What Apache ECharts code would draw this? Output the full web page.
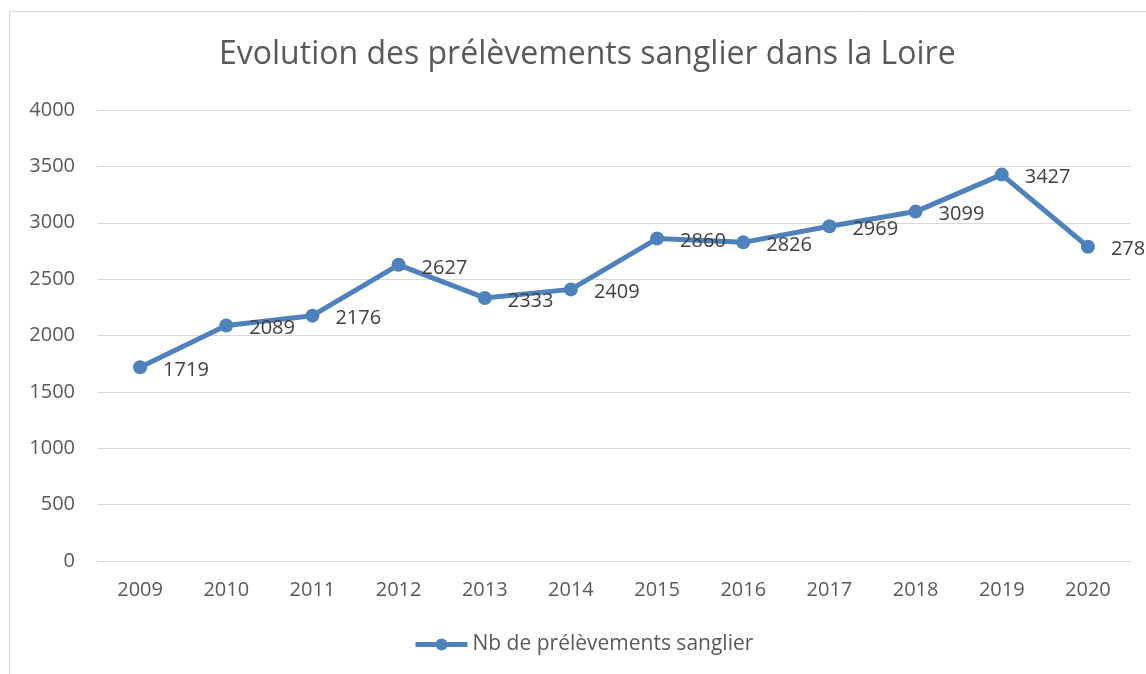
<!DOCTYPE html>
<html>
<head>
<meta charset="utf-8">
<script src="https://cdn.jsdelivr.net/npm/echarts@6/dist/echarts.min.js"></script>
<style>
    html, body { margin: 0; padding: 0; background: #fff; }
    #line-chart { width: 1146px; height: 674px; }
</style>
</head>
<body>
<div id="line-chart"></div>
<script>
    // données
    var years = ['2009', '2010', '2011', '2012', '2013', '2014', '2015', '2016', '2017', '2018', '2019', '2020'];
    var prelevements = [1719, 2089, 2176, 2627, 2333, 2409, 2860, 2826, 2969, 3099, 3427, 2787];
    var seriesName = 'Nb de prélèvements sanglier';
    var titleText = 'Evolution des prélèvements sanglier dans la Loire';

    var myChart = echarts.init(document.getElementById('line-chart'));
    var font = '"Open Sans", "Noto Sans", sans-serif';

    myChart.setOption({
        animation: false,
        textStyle: { fontFamily: font },
        graphic: [{
            type: 'rect',
            shape: { x: 9.5, y: 11.5, width: 1200, height: 700 },
            style: { fill: 'none', stroke: '#d9d9d9', lineWidth: 1 },
            silent: true
        }],
        title: {
            text: titleText,
            left: 214,
            top: 34,
            textStyle: { fontFamily: font, fontSize: 32, fontWeight: 'normal', color: '#595959' }
        },
        legend: {
            data: [seriesName],
            bottom: 14,
            left: 408,
            itemWidth: 52,
            itemHeight: 15,
            itemGap: 4,
            lineStyle: { width: 5 },
            textStyle: { fontFamily: font, fontSize: 21, color: '#595959' }
        },
        grid: { left: 97, right: 15, top: 110, bottom: 113 },
        xAxis: {
            type: 'category',
            data: years,
            boundaryGap: true,
            axisLine: { show: false },
            axisTick: { show: false },
            axisLabel: { fontFamily: font, fontSize: 20, color: '#595959', margin: 19 }
        },
        yAxis: {
            type: 'value',
            min: 0,
            max: 4000,
            interval: 500,
            axisLine: { show: false },
            axisTick: { show: false },
            splitLine: { lineStyle: { color: '#d9d9d9', width: 1 } },
            axisLabel: {
                fontFamily: font, fontSize: 20, color: '#595959', margin: 22,
                formatter: function (v) { return String(v); }
            }
        },
        series: [{
            name: seriesName,
            type: 'line',
            data: prelevements,
            symbol: 'circle',
            symbolSize: 14,
            lineStyle: { color: '#4f81bd', width: 5 },
            itemStyle: { color: '#4f81bd' },
            label: {
                show: true,
                position: 'right',
                distance: 16,
                offset: [0, 3],
                fontFamily: font,
                fontSize: 20,
                color: '#404040'
            }
        }]
    });
</script>
</body>
</html>
